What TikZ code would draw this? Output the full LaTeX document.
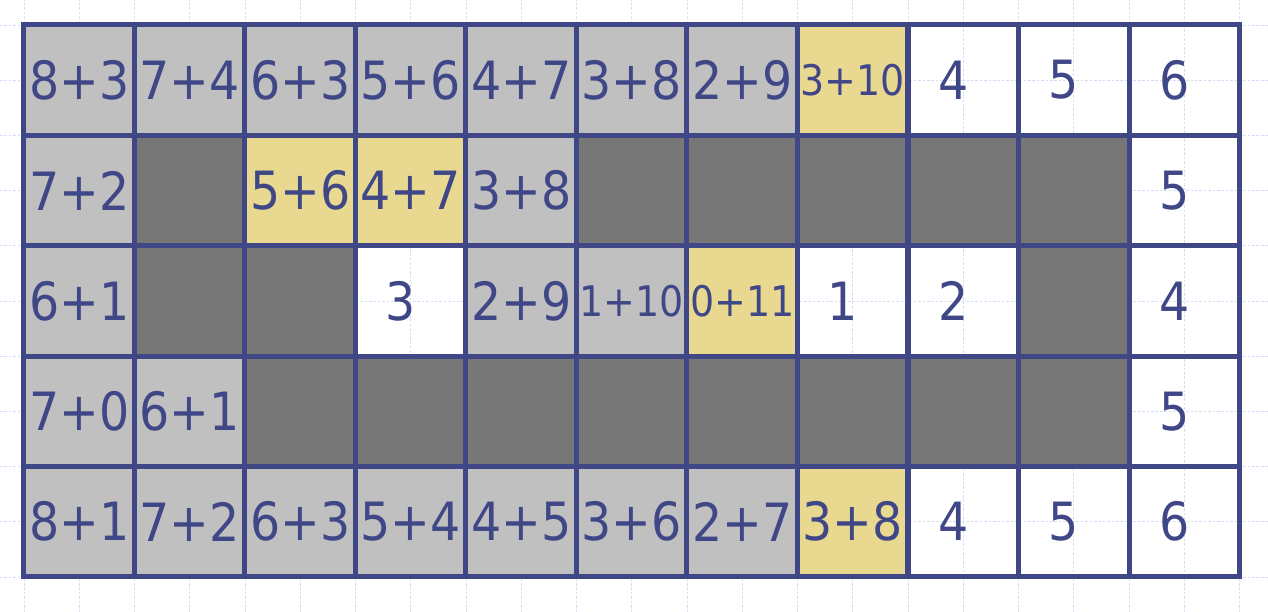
\documentclass[tikz,border=0pt]{standalone}
\usepackage{fontspec}
\setmainfont{DejaVu Sans Condensed}
\usepackage{tikz}

\definecolor{navy}{RGB}{63,71,135}
\definecolor{lite}{RGB}{192,192,192}
\definecolor{dark}{RGB}{119,119,119}
\definecolor{gold}{RGB}{233,216,144}
\definecolor{bgline}{RGB}{214,221,246}
\newcommand{\dig}[1]{#1\kern0.4cm}
\tikzset{
  cell/.style={draw=navy, line width=0.1cm, rectangle, inner sep=0pt,
    minimum width=2.21cm, minimum height=2.208cm, text=navy,
    font=\fontsize{30pt}{30pt}\selectfont},
  small/.style={font=\fontsize{24pt}{24pt}\selectfont}
}

\begin{document}
\begin{tikzpicture}[x=2.21cm, y=2.208cm]
\useasboundingbox (-0.217,-5.317) rectangle (11.258,0.226);
\draw[bgline, dash pattern=on 1.5pt off 1pt, line width=0.4pt] (-0.217,-5.317) grid[step=0.5] (11.258,0.226);
% top row
\node[cell, fill=lite] (a0) at (0.5,-0.5){8+3};
\node[cell, fill=lite] (a1) at (1.5,-0.5){7+4};
\node[cell, fill=lite] (a2) at (2.5,-0.5){6+3};
\node[cell, fill=lite] (a3) at (3.5,-0.5){5+6};
\node[cell, fill=lite] (a4) at (4.5,-0.5){4+7};
\node[cell, fill=lite] (a5) at (5.5,-0.5){3+8};
\node[cell, fill=lite] (a6) at (6.5,-0.5){2+9};
\node[cell, small, fill=gold] (a7) at (7.5,-0.5){3+10};
\node[cell] (a8) at (8.5,-0.5){\dig{4}};
\node[cell] (a9) at (9.5,-0.5){\dig{5}};
\node[cell] (a10) at (10.5,-0.5){\dig{6}};
% second row
\node[cell, fill=lite] (b0) at (0.5,-1.5){7+2};
\node[cell, fill=dark] (b1) at (1.5,-1.5){};
\node[cell, fill=gold] (b2) at (2.5,-1.5){5+6};
\node[cell, fill=gold] (b3) at (3.5,-1.5){4+7};
\node[cell, fill=lite] (b4) at (4.5,-1.5){3+8};
\node[cell, fill=dark] (b5) at (5.5,-1.5){};
\node[cell, fill=dark] (b6) at (6.5,-1.5){};
\node[cell, fill=dark] (b7) at (7.5,-1.5){};
\node[cell, fill=dark] (b8) at (8.5,-1.5){};
\node[cell, fill=dark] (b9) at (9.5,-1.5){};
\node[cell] (b10) at (10.5,-1.5){\dig{5}};
% third row
\node[cell, fill=lite] (c0) at (0.5,-2.5){6+1};
\node[cell, fill=dark] (c1) at (1.5,-2.5){};
\node[cell, fill=dark] (c2) at (2.5,-2.5){};
\node[cell] (c3) at (3.5,-2.5){\dig{3}};
\node[cell, fill=lite] (c4) at (4.5,-2.5){2+9};
\node[cell, small, fill=lite] (c5) at (5.5,-2.5){1+10};
\node[cell, small, fill=gold] (c6) at (6.5,-2.5){0+11};
\node[cell] (c7) at (7.5,-2.5){\dig{1}};
\node[cell] (c8) at (8.5,-2.5){\dig{2}};
\node[cell, fill=dark] (c9) at (9.5,-2.5){};
\node[cell] (c10) at (10.5,-2.5){\dig{4}};
% fourth row
\node[cell, fill=lite] (d0) at (0.5,-3.5){7+0};
\node[cell, fill=lite] (d1) at (1.5,-3.5){6+1};
\node[cell, fill=dark] (d2) at (2.5,-3.5){};
\node[cell, fill=dark] (d3) at (3.5,-3.5){};
\node[cell, fill=dark] (d4) at (4.5,-3.5){};
\node[cell, fill=dark] (d5) at (5.5,-3.5){};
\node[cell, fill=dark] (d6) at (6.5,-3.5){};
\node[cell, fill=dark] (d7) at (7.5,-3.5){};
\node[cell, fill=dark] (d8) at (8.5,-3.5){};
\node[cell, fill=dark] (d9) at (9.5,-3.5){};
\node[cell] (d10) at (10.5,-3.5){\dig{5}};
% bottom row
\node[cell, fill=lite] (e0) at (0.5,-4.5){8+1};
\node[cell, fill=lite] (e1) at (1.5,-4.5){7+2};
\node[cell, fill=lite] (e2) at (2.5,-4.5){6+3};
\node[cell, fill=lite] (e3) at (3.5,-4.5){5+4};
\node[cell, fill=lite] (e4) at (4.5,-4.5){4+5};
\node[cell, fill=lite] (e5) at (5.5,-4.5){3+6};
\node[cell, fill=lite] (e6) at (6.5,-4.5){2+7};
\node[cell, fill=gold] (e7) at (7.5,-4.5){3+8};
\node[cell] (e8) at (8.5,-4.5){\dig{4}};
\node[cell] (e9) at (9.5,-4.5){\dig{5}};
\node[cell] (e10) at (10.5,-4.5){\dig{6}};
\end{tikzpicture}
\end{document}
